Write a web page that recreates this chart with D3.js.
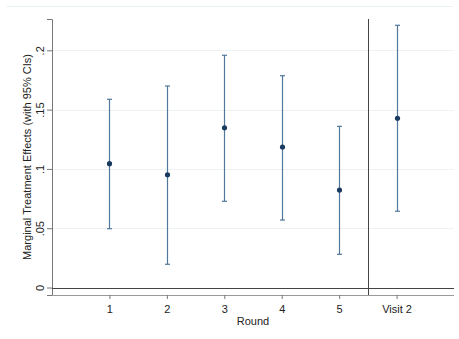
<!DOCTYPE html>
<html>
<head>
<meta charset="utf-8">
<script src="https://cdn.jsdelivr.net/npm/d3@7"></script>
<style>
  body { margin: 0; background: #fff; }
  svg text { font-family: "Liberation Sans", Arial, sans-serif; fill: #222; }
</style>
</head>
<body>
<div id="chart"></div>
<script>
// data
var rounds = ['1', '2', '3', '4', '5', 'Visit 2']
var xpos = [1, 2, 3, 4, 5, 6]
var effects = [0.1044, 0.0951, 0.1347, 0.1185, 0.0822, 0.1427]
var lower = [0.0496, 0.0196, 0.0727, 0.0569, 0.0280, 0.0643]
var upper = [0.1587, 0.1699, 0.1958, 0.1786, 0.1359, 0.2211]
var yTicks = [0, 0.05, 0.1, 0.15, 0.2]
var yTickLabels = ['0', '.05', '.1', '.15', '.2']

const W = 459, H = 339
const margin = {top: 19, right: 5, bottom: 44, left: 52}
const width = W - margin.left - margin.right,
      height = H - margin.top - margin.bottom

var data = rounds.map(function(r, i) {
    return {round: r, x: xpos[i], est: effects[i], lo: lower[i], hi: upper[i]}
})

var svg = d3.select('#chart').append('svg')
    .attr('width', W)
    .attr('height', H)

// faint outer border line at top
svg.append('line')
    .attr('x1', 6).attr('x2', 453)
    .attr('y1', 6.5).attr('y2', 6.5)
    .attr('stroke', '#eaf2f3')
    .attr('stroke-width', 1)

var g = svg.append('g')
    .attr('transform', 'translate(' + margin.left + ',' + margin.top + ')')

var x = d3.scaleLinear().domain([0, 7]).range([0, width])
var y = d3.scaleLinear().domain([-0.0063, 0.2264]).range([height, 0])

// grid lines
g.selectAll('.grid')
    .data(yTicks.slice(1))
    .enter().append('line')
    .attr('class', 'grid')
    .attr('x1', 0).attr('x2', width)
    .attr('y1', d => Math.round(y(d)) + 0.5)
    .attr('y2', d => Math.round(y(d)) + 0.5)
    .attr('stroke', '#eef2f3')

// y axis
var yAxis = d3.axisLeft(y)
    .tickValues(yTicks)
    .tickFormat((d, i) => yTickLabels[i])
    .tickSize(5)

var ya = g.append('g').attr('class', 'y-axis').call(yAxis)
ya.select('.domain').attr('stroke', '#777')
ya.selectAll('.tick line').attr('stroke', '#777')
ya.selectAll('.tick text')
    .attr('font-size', 11)
    .attr('transform', 'rotate(-90)')
    .attr('x', 0).attr('y', -8)
    .attr('dy', 0)
    .attr('text-anchor', 'middle')
    .style('font-family', '"Liberation Sans", Arial, sans-serif')

// x axis
var xAxis = d3.axisBottom(x)
    .tickValues(xpos)
    .tickFormat((d, i) => rounds[i])
    .tickSize(4)
    .tickPadding(6)

var xa = g.append('g').attr('class', 'x-axis')
    .attr('transform', 'translate(0,' + height + ')')
    .call(xAxis)
xa.select('.domain').attr('stroke', '#999').attr('d', 'M0.5,0.5H' + width)
xa.selectAll('.tick line').attr('stroke', '#777')
xa.selectAll('.tick text')
    .attr('font-size', 11)
    .style('font-family', '"Liberation Sans", Arial, sans-serif')

// zero line
g.append('line')
    .attr('x1', 0).attr('x2', width)
    .attr('y1', Math.round(y(0)) + 0.5).attr('y2', Math.round(y(0)) + 0.5)
    .attr('stroke', '#444')

// separator between rounds and visit 2
g.append('line')
    .attr('x1', Math.round(x(5.5)) + 0.5).attr('x2', Math.round(x(5.5)) + 0.5)
    .attr('y1', 0).attr('y2', height)
    .attr('stroke', '#444')

// confidence intervals
var ci = g.selectAll('.ci')
    .data(data)
    .enter().append('g')
    .attr('class', 'ci')

ci.append('line')
    .attr('x1', d => Math.round(x(d.x)) + 0.5)
    .attr('x2', d => Math.round(x(d.x)) + 0.5)
    .attr('y1', d => y(d.hi))
    .attr('y2', d => y(d.lo))
    .attr('stroke', '#52779c')
    .attr('stroke-width', 1.2)

ci.selectAll('.cap')
    .data(d => [{x: d.x, v: d.hi}, {x: d.x, v: d.lo}])
    .enter().append('line')
    .attr('class', 'cap')
    .attr('x1', d => Math.round(x(d.x)) + 0.5 - 2.5)
    .attr('x2', d => Math.round(x(d.x)) + 0.5 + 2.5)
    .attr('y1', d => y(d.v))
    .attr('y2', d => y(d.v))
    .attr('stroke', '#52779c')
    .attr('stroke-width', 1.2)

// point estimates
g.selectAll('.pt')
    .data(data)
    .enter().append('circle')
    .attr('class', 'pt')
    .attr('cx', d => Math.round(x(d.x)) + 0.5)
    .attr('cy', d => y(d.est))
    .attr('r', 2.6)
    .attr('fill', '#1a3a60')

// axis titles
svg.append('text')
    .attr('x', margin.left + width / 2)
    .attr('y', 325)
    .attr('text-anchor', 'middle')
    .attr('font-size', 11)
    .text('Round')

svg.append('text')
    .attr('transform', 'translate(31,' + (margin.top + height / 2) + ') rotate(-90)')
    .attr('text-anchor', 'middle')
    .attr('font-size', 11)
    .text('Marginal Treatment Effects (with 95% CIs)')
</script>
</body>
</html>
